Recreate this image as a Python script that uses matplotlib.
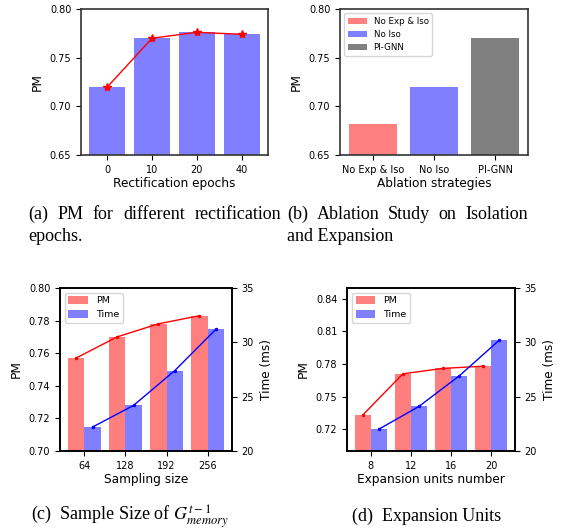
import numpy as np
import matplotlib
matplotlib.use("Agg")
import matplotlib.pyplot as plt

# (a) rectification epochs
epochs = ["0", "10", "20", "40"]
pm_epochs = [0.720, 0.770, 0.776, 0.774]

# (b) ablation
ablation = ["No Exp & Iso", "No Iso", "PI-GNN"]
pm_ablation = [0.682, 0.720, 0.770]
ablation_colors = ["#ff8080", "#8080ff", "#808080"]

# (c) sampling size
sizes = ["64", "128", "192", "256"]
pm_sizes = [0.757, 0.770, 0.778, 0.783]
time_sizes = [22.2, 24.2, 27.4, 31.2]

# (d) expansion units
units = ["8", "12", "16", "20"]
pm_units = [0.733, 0.771, 0.776, 0.778]
time_units = [22.0, 24.1, 26.9, 30.2]

TICK = 7
LAB = 8.7
SERIF = "Liberation Serif"
CAP = 13

W, H = 566, 531
fig = plt.figure(figsize=(W / 100, H / 100), dpi=100)


def style_spines(ax, color, lw):
    for s in ax.spines.values():
        s.set_color(color)
        s.set_linewidth(lw)


# ---- (a)
ax = fig.add_axes([0.1431, 0.7081, 0.3304, 0.2750])
x = np.arange(len(epochs))
ax.bar(x, pm_epochs, width=0.8, color="blue", alpha=0.5)
ax.plot(x, pm_epochs, color="red", marker="*", markersize=6, linewidth=1)
ax.set_ylim(0.65, 0.80)
ax.set_yticks([0.65, 0.70, 0.75, 0.80])
ax.set_xticks(x)
ax.set_xticklabels(epochs)
ax.tick_params(labelsize=TICK)
ax.set_ylabel("PM", fontsize=LAB)
ax.set_xlabel("Rectification epochs", fontsize=LAB, labelpad=2)
style_spines(ax, "#333333", 1.2)

# ---- (b)
ax = fig.add_axes([0.6007, 0.7081, 0.3322, 0.2750])
x = np.arange(len(ablation))
for i in range(len(ablation)):
    ax.bar(x[i], pm_ablation[i], width=0.8, color=ablation_colors[i], label=ablation[i])
ax.set_ylim(0.65, 0.80)
ax.set_yticks([0.65, 0.70, 0.75, 0.80])
ax.set_xticks(x)
ax.set_xticklabels(ablation)
ax.tick_params(labelsize=TICK)
ax.set_ylabel("PM", fontsize=LAB)
ax.set_xlabel("Ablation strategies", fontsize=LAB, labelpad=2)
ax.legend(loc="upper left", fontsize=6.2, handlelength=2.2)
style_spines(ax, "#333333", 1.2)


def twin_panel(rect, labels, pm, tm, ylim, yticks, xlabel):
    ax = fig.add_axes(rect)
    ax2 = ax.twinx()
    x = np.arange(len(labels))
    b1 = ax.bar(x - 0.2, pm, width=0.4, color="red", alpha=0.5, label="PM")
    ax.plot(x - 0.2, pm, color="red", marker=".", markersize=3, linewidth=1)
    b2 = ax2.bar(x + 0.2, tm, width=0.4, color="blue", alpha=0.5, label="Time")
    ax2.plot(x + 0.2, tm, color="blue", marker=".", markersize=3, linewidth=1)
    ax.set_ylim(*ylim)
    ax.set_yticks(yticks)
    ax2.set_ylim(20, 35)
    ax2.set_yticks([20, 25, 30, 35])
    ax.set_xticks(x)
    ax.set_xticklabels(labels)
    ax.tick_params(labelsize=TICK)
    ax2.tick_params(labelsize=TICK)
    ax.set_ylabel("PM", fontsize=LAB)
    ax2.set_ylabel("Time (ms)", fontsize=LAB)
    ax.set_xlabel(xlabel, fontsize=LAB, labelpad=2)
    ax.legend([b1, b2], ["PM", "Time"], loc="upper left", fontsize=6.8,
              handlelength=2.1, handleheight=0.85)
    style_spines(ax, "black", 1.2)
    style_spines(ax2, "black", 1.2)
    return ax


twin_panel([0.106, 0.1507, 0.3039, 0.307], sizes, pm_sizes, time_sizes,
           (0.70, 0.80), [0.70, 0.72, 0.74, 0.76, 0.78, 0.80], "Sampling size")
twin_panel([0.6131, 0.1507, 0.2968, 0.307], units, pm_units, time_units,
           (0.70, 0.85), [0.72, 0.75, 0.78, 0.81, 0.84], "Expansion units number")

# ---- captions (serif, justified first lines)
renderer = fig.canvas.get_renderer()


def justified(words, x0, x1, ybase):
    texts = [fig.text(0, 1 - ybase / H, w, fontsize=CAP, family=SERIF, va="baseline")
             for w in words]
    widths = [t.get_window_extent(renderer).width for t in texts]
    gap = (x1 - x0 - sum(widths)) / (len(words) - 1)
    pos = x0
    for t, w in zip(texts, widths):
        t.set_x(pos / W)
        pos += w + gap


def line(s, x0, ybase, **kw):
    fig.text(x0 / W, 1 - ybase / H, s, fontsize=CAP, family=SERIF, va="baseline", **kw)


justified(["(a)", "PM", "for", "different", "rectification"], 28, 281, 219)
line("epochs.", 28, 241)
justified(["(b)", "Ablation", "Study", "on", "Isolation"], 287, 528, 219)
line("and Expansion", 287, 241)
line(r"(c)  Sample Size of $G^{t-1}_{memory}$", 31, 521, math_fontfamily="stix")
line("(d)  Expansion Units", 352, 521)

fig.savefig("out.png", dpi=100)
